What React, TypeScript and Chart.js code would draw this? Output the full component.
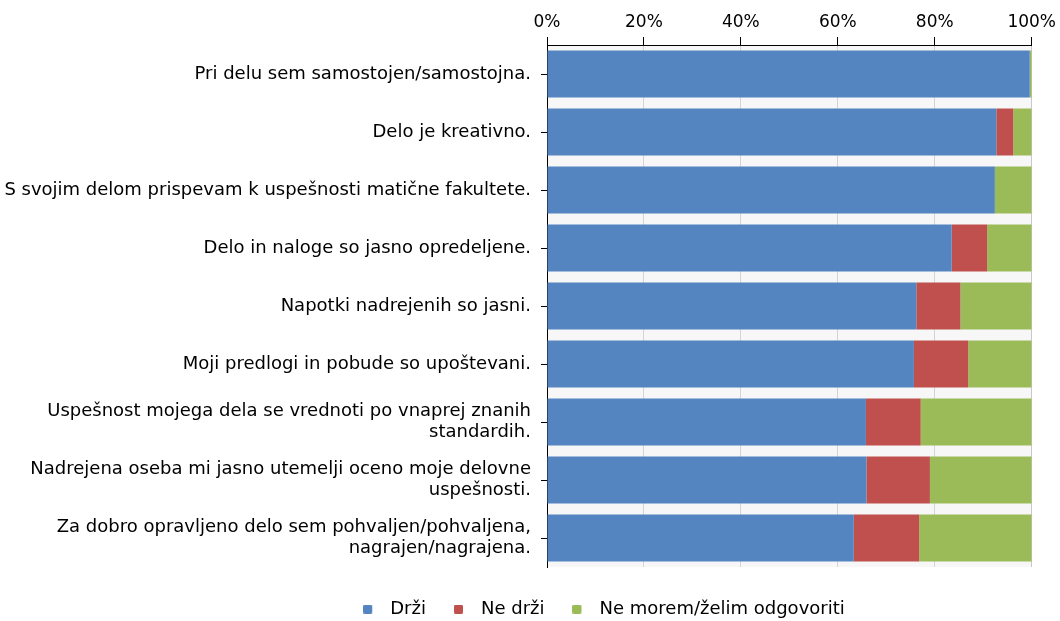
import React, { useEffect, useRef } from "react";
import { Chart, registerables } from "chart.js";

Chart.register(...registerables);

const categories: (string | string[])[] = [
  "Pri delu sem samostojen/samostojna.",
  "Delo je kreativno.",
  "S svojim delom prispevam k uspešnosti matične fakultete.",
  "Delo in naloge so jasno opredeljene.",
  "Napotki nadrejenih so jasni.",
  "Moji predlogi in pobude so upoštevani.",
  ["Uspešnost mojega dela se vrednoti po vnaprej znanih", "standardih."],
  ["Nadrejena oseba mi jasno utemelji oceno moje delovne", "uspešnosti."],
  ["Za dobro opravljeno delo sem pohvaljen/pohvaljena,", "nagrajen/nagrajena."],
];

const seriesNames = ["Drži", "Ne drži", "Ne morem/želim odgovoriti"];
const drzi = [99.6, 92.7, 92.4, 83.5, 76.2, 75.7, 65.8, 65.9, 63.3];
const neDrzi = [0, 3.5, 0, 7.3, 9.1, 11.2, 11.3, 13.1, 13.5];
const neMorem = [0.4, 3.8, 7.6, 9.2, 14.7, 13.1, 22.9, 21.0, 23.2];
const colors = ["#5585C0", "#C0504D", "#9BBB59"];
const xTicks = [0, 20, 40, 60, 80, 100];

const FONT = "'DejaVu Sans', Verdana, sans-serif";
const PAD_LEFT = 152;

const bgPlugin = {
  id: "plotBg",
  afterLayout(chart: any) {
    // let the category labels use the full width to the left of the plot
    const y = chart.scales.y;
    if (y) {
      y.left = 0;
      y.width = y.right;
    }
  },
  beforeDraw(chart: any) {
    const { ctx, chartArea } = chart;
    if (!chartArea) return;
    ctx.save();
    ctx.fillStyle = "#f7f7f7";
    ctx.fillRect(chartArea.left, chartArea.top, chartArea.right - chartArea.left, chartArea.bottom - chartArea.top);
    ctx.restore();
  },
};

function makeMarker(color: string): HTMLCanvasElement {
  const c = document.createElement("canvas");
  c.width = 18;
  c.height = 9;
  const g = c.getContext("2d")!;
  g.fillStyle = color;
  g.beginPath();
  const r = 1.5;
  const w = 9, h = 9;
  g.moveTo(r, 0);
  g.lineTo(w - r, 0);
  g.quadraticCurveTo(w, 0, w, r);
  g.lineTo(w, h - r);
  g.quadraticCurveTo(w, h, w - r, h);
  g.lineTo(r, h);
  g.quadraticCurveTo(0, h, 0, h - r);
  g.lineTo(0, r);
  g.quadraticCurveTo(0, 0, r, 0);
  g.fill();
  return c;
}

export default function App() {
  const ref = useRef<HTMLCanvasElement | null>(null);
  useEffect(() => {
    document.body.style.margin = "0";
    if (!ref.current) return;
    const data = [drzi, neDrzi, neMorem];
    const markers = colors.map(makeMarker);
    const chart = new Chart(ref.current, {
      type: "bar",
      data: {
        labels: categories as any,
        datasets: seriesNames.map((name, i) => ({
          label: name,
          data: data[i],
          xAxisID: "x",
          yAxisID: "y",
          backgroundColor: colors[i],
          borderWidth: 0,
          barPercentage: 0.81,
          categoryPercentage: 1,
        })),
      },
      options: {
        indexAxis: "y",
        animation: false,
        responsive: false,
        maintainAspectRatio: false,
        layout: { padding: { top: 0, right: 4, bottom: 0, left: PAD_LEFT } },
        plugins: {
          tooltip: { enabled: false },
          legend: {
            position: "bottom",
            maxHeight: 49,
            labels: {
              usePointStyle: true,
              pointStyleWidth: 18,
              boxHeight: 9,
              padding: 28,
              color: "#000",
              font: { family: FONT, size: 18 },
              generateLabels: (ch: any) =>
                (Chart.defaults.plugins.legend.labels.generateLabels as any)(ch).map((it: any, i: number) => ({
                  ...it,
                  pointStyle: markers[i],
                })),
            },
          },
        },
        scales: {
          x: {
            position: "top",
            stacked: true,
            min: 0,
            max: 100,
            afterBuildTicks: (scale: any) => {
              scale.ticks = xTicks.map((v) => ({ value: v }));
            },
            afterFit: (scale: any) => {
              scale.height = 45;
            },
            ticks: {
              color: "#000",
              padding: 4,
              font: { family: FONT, size: 17 },
              callback: (v: any) => v + "%",
            },
            border: { display: true, color: "#000", width: 1 },
            grid: {
              color: (c: any) => (c.tick && c.tick.value === 100 ? "#c8c8c8" : "#d4d4d4"),
              tickColor: "#000",
              tickLength: 8,
              tickBorderDash: [],
              borderDash: [3, 3],
            } as any,
          },
          x2: {
            type: "linear",
            axis: "x",
            position: "bottom",
            display: true,
            afterFit: (scale: any) => {
              scale.height = 5;
            },
            ticks: { display: false },
            grid: { display: false, drawTicks: false },
            border: { display: false },
          },
          y: {
            stacked: true,
            afterFit: (scale: any) => {
              scale.width = 547 - PAD_LEFT;
            },
            ticks: {
              color: "#000",
              padding: 10,
              font: { family: FONT, size: 18, lineHeight: 1.2 },
            },
            border: { display: true, color: "#000", width: 1 },
            grid: {
              offset: false,
              drawOnChartArea: false,
              tickLength: 6,
              tickColor: "#000",
              color: "#000",
            },
          },
        },
      } as any,
      plugins: [bgPlugin],
    });
    return () => chart.destroy();
  }, []);
  return (
    <div style={{ width: 1060, height: 621 }}>
      <canvas ref={ref} width={1060} height={621} style={{ width: 1060, height: 621 }} />
    </div>
  );
}
